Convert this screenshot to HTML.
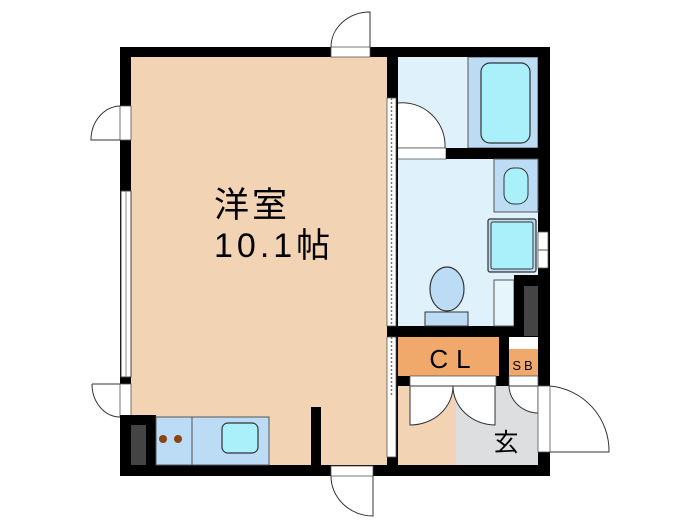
<!DOCTYPE html>
<html><head><meta charset="utf-8"><style>
html,body{margin:0;padding:0;background:#fff;width:700px;height:525px;overflow:hidden}
svg{display:block}
text{font-family:"Liberation Sans","Noto Sans CJK JP",sans-serif}
</style></head><body>
<svg width="700" height="525" viewBox="0 0 700 525" xmlns="http://www.w3.org/2000/svg">
<rect x="131" y="57" width="256" height="408" fill="#f2d3b3"/>
<rect x="397" y="57" width="142" height="270" fill="#dff1fb"/>
<rect x="398" y="386" width="58" height="79" fill="#f2d3b3"/>
<rect x="456" y="386" width="82" height="79" fill="#dcdedf"/>
<rect x="468" y="57" width="70" height="91" fill="#bcdcf5" stroke="#555" stroke-width="1"/>
<rect x="481" y="63" width="49" height="80" rx="9" fill="#aaf0fb" stroke="#333" stroke-width="1.2"/>
<path d="M397,103 A43,43 0 0 1 445,148 L397,148 Z" fill="#fff" stroke="#333" stroke-width="1"/>
<rect x="397" y="148" width="49" height="11" fill="#fff" stroke="#555" stroke-width="0.8"/>
<rect x="120" y="47" width="430" height="10" fill="#000"/>
<rect x="120" y="47" width="11" height="429" fill="#000"/>
<rect x="120" y="465" width="430" height="11" fill="#000"/>
<rect x="538" y="47" width="12" height="429" fill="#000"/>
<rect x="387" y="47" width="11" height="429" fill="#000"/>
<rect x="446" y="148" width="104" height="11" fill="#000"/>
<rect x="387" y="326" width="163" height="11" fill="#000"/>
<rect x="387" y="376" width="163" height="10" fill="#000"/>
<rect x="499" y="337" width="10" height="40" fill="#000"/>
<rect x="311" y="407" width="10" height="58" fill="#000"/>
<rect x="494" y="159" width="44" height="53" fill="#bcdcf5" stroke="#555" stroke-width="1"/>
<rect x="504" y="168" width="24" height="36" rx="10" fill="#aaf0fb" stroke="#333" stroke-width="1"/>
<rect x="488" y="219" width="48" height="53" rx="2" fill="#bcdcf5" stroke="#333" stroke-width="1.2"/>
<rect x="491" y="222" width="42" height="47" rx="2" fill="#aaf0fb" stroke="#333" stroke-width="1"/>
<rect x="494" y="280" width="20" height="46" fill="#e6f4fc" stroke="#555" stroke-width="1"/>
<rect x="514" y="275" width="36" height="62" fill="#000"/>
<rect x="524" y="286" width="14" height="50" fill="#444"/>
<rect x="538" y="232" width="10" height="36" fill="#fff" stroke="#555" stroke-width="0.8"/>
<line x1="538" y1="250" x2="548" y2="250" stroke="#555"/>
<ellipse cx="447" cy="289" rx="17" ry="22" fill="#bcdcf5" stroke="#333" stroke-width="1.2"/>
<rect x="425" y="312" width="43" height="14" fill="#bcdcf5" stroke="#333" stroke-width="1"/>
<rect x="398" y="337" width="101" height="39" fill="#f0a96a"/>
<text x="454" y="368" font-size="26" text-anchor="middle" fill="#000" letter-spacing="8">CL</text>
<rect x="509" y="349" width="29" height="27" fill="#f0a96a"/>
<text x="524" y="370" font-size="13" text-anchor="middle" fill="#000" letter-spacing="3">SB</text>
<rect x="410" y="376" width="86" height="10" fill="#fff" stroke="#555" stroke-width="0.8"/>
<rect x="509" y="376" width="29" height="10" fill="#fff" stroke="#555" stroke-width="0.8"/>
<path d="M410,386 L410,425 A43,39 0 0 0 453,386 Z" fill="#fff" stroke="#333" stroke-width="1"/>
<path d="M495,386 L495,425 A43,39 0 0 1 453,386 Z" fill="#fff" stroke="#333" stroke-width="1"/>
<path d="M538,386 L538,413 A30,28 0 0 1 509,386 Z" fill="#fff" stroke="#333" stroke-width="1"/>
<rect x="538" y="386" width="12" height="66" fill="#fff" stroke="#555" stroke-width="0.8"/>
<path d="M550,386 A65,65 0 0 1 609,452 L550,452" fill="none" stroke="#333" stroke-width="1"/>
<text x="506" y="451" font-size="25" text-anchor="middle" fill="#000">玄</text>
<rect x="387" y="98" width="9" height="228" fill="#fff" stroke="#555" stroke-width="0.8"/>
<line x1="391.5" y1="98" x2="391.5" y2="326" stroke="#777" stroke-width="1.5" stroke-dasharray="2,2"/>
<rect x="387" y="337" width="9" height="120" fill="#fff" stroke="#555" stroke-width="0.8"/>
<line x1="391.5" y1="337" x2="391.5" y2="395" stroke="#777" stroke-width="1.5" stroke-dasharray="2,2"/>
<rect x="121" y="191" width="10" height="186" fill="#fff" stroke="#444" stroke-width="1"/>
<line x1="126" y1="191" x2="126" y2="377" stroke="#888" stroke-width="1"/>
<rect x="120" y="106" width="11" height="34" fill="#fff" stroke="#555" stroke-width="0.8"/>
<path d="M120,106 A30,34 0 0 0 91,140 L120,140" fill="none" stroke="#333" stroke-width="1"/>
<rect x="120" y="384" width="11" height="33" fill="#fff" stroke="#555" stroke-width="0.8"/>
<path d="M92,384 L120,384 M92,384 A28,33 0 0 0 120,417" fill="none" stroke="#333" stroke-width="1"/>
<rect x="331" y="47" width="39" height="10" fill="#fff" stroke="#555" stroke-width="0.8"/>
<path d="M331,47 A39,35 0 0 1 370,12 L370,47" fill="none" stroke="#333" stroke-width="1"/>
<rect x="331" y="466" width="42" height="10" fill="#fff" stroke="#555" stroke-width="0.8"/>
<path d="M331,476 A42,40 0 0 0 373,516 L373,476" fill="none" stroke="#333" stroke-width="1"/>
<rect x="120" y="415" width="36" height="61" fill="#000"/>
<rect x="131" y="425" width="15" height="40" fill="#444"/>
<rect x="156" y="417" width="113" height="48" fill="#bcdcf5" stroke="#555" stroke-width="1"/>
<line x1="192" y1="417" x2="192" y2="465" stroke="#555"/>
<circle cx="163" cy="439" r="4" fill="#8b4513"/>
<circle cx="178" cy="439" r="4" fill="#8b4513"/>
<rect x="222" y="423" width="36" height="30" rx="6" fill="#aaf0fb" stroke="#333" stroke-width="1.2"/>
<text x="214" y="217" font-size="35" fill="#000" letter-spacing="3">洋室</text>
<text x="214" y="257" font-size="34" fill="#000" letter-spacing="4">10.1帖</text>
</svg>
</body></html>
